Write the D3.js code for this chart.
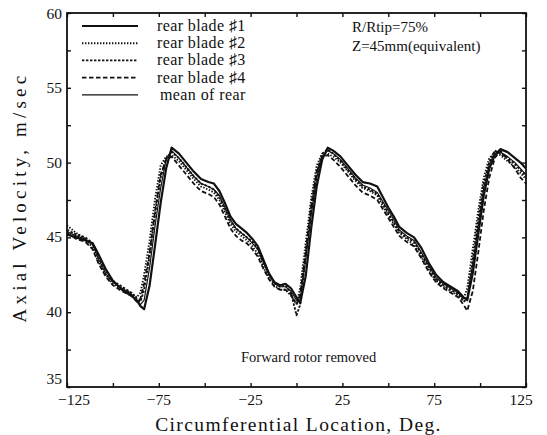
<!DOCTYPE html>
<html lang="en">
<head>
<meta charset="UTF-8">
<title>Axial Velocity - Forward rotor removed</title>
<script src="https://d3js.org/d3.v7.min.js"></script>
<style>
    body { margin: 0; padding: 0; background: #fff; }
    svg { display: block; }
    text { font-family: "Liberation Serif", "DejaVu Serif", serif; fill: #111; }
</style>
</head>
<body>
<div id="chart"></div>
<script>
// circumferential location, deg
const angles = [-125,-120,-115,-111,-108,-104,-100,-95,-90,-87,-85,-83,-80,-77,-74,-71,-68,-64,-60,-56,-52,-48,-45,-42,-39,-36,-33,-30,-27,-24,-21,-18,-15,-12,-9,-6,-3,0,2,5,8,11,14,17,20,24,28,32,36,40,44,47,50,53,56,60,64,68,72,76,80,84,88,91,93,96,99,102,105,108,111,115,119,122,125];

// axial velocity, m/sec
const blade1 = [45.2,45.0,44.8,44.6,43.9,42.9,42.1,41.5,41.1,40.8,40.4,40.2,41.8,44.5,47.3,49.6,51.0,50.6,50.0,49.4,48.9,48.7,48.6,48.1,47.3,46.4,45.9,45.6,45.3,44.9,44.4,43.5,42.6,42.0,41.8,41.9,41.6,41.0,40.6,42.4,45.6,48.4,50.2,51.0,50.8,50.4,49.8,49.2,48.7,48.6,48.4,47.7,47.0,46.4,45.7,45.3,45.0,44.3,43.3,42.5,42.0,41.7,41.4,41.0,40.8,42.6,45.2,47.8,49.6,50.5,50.9,50.7,50.3,50.0,49.6];
const blade2 = [45.8,45.3,44.9,44.3,43.4,42.5,41.9,41.5,41.3,41.0,41.3,42.5,44.8,47.6,49.8,50.4,50.5,50.1,49.5,48.9,48.4,48.2,48.0,47.5,46.7,45.9,45.4,45.1,44.8,44.4,43.9,43.0,42.3,41.8,41.5,41.5,41.1,40.6,41.6,44.6,47.6,49.8,50.6,50.6,50.4,50.0,49.4,48.8,48.3,48.1,47.8,47.1,46.5,45.9,45.3,44.9,44.5,43.7,42.8,42.1,41.7,41.4,41.1,40.9,41.6,44.2,46.8,49.0,50.3,50.7,50.5,50.1,49.7,49.3,48.9];
const blade3 = [45.5,45.2,45.0,44.6,43.8,42.8,42.1,41.7,41.3,40.9,40.7,41.5,43.8,46.6,49.0,50.3,50.7,50.3,49.7,49.1,48.6,48.4,48.2,47.7,46.9,46.1,45.6,45.3,45.0,44.7,44.2,43.3,42.5,42.0,41.7,41.8,41.3,39.8,40.5,43.8,46.9,49.3,50.6,50.9,50.6,50.1,49.5,48.9,48.4,48.2,47.9,47.3,46.6,46.0,45.4,45.0,44.7,43.9,43.0,42.2,41.8,41.5,41.2,40.7,40.9,43.5,46.2,48.6,50.0,50.8,50.6,50.3,49.9,49.5,49.1];
const blade4 = [45.3,44.9,44.7,44.2,43.3,42.4,41.8,41.4,41.1,40.7,40.9,41.9,44.0,46.8,49.2,50.2,50.4,49.8,49.2,48.6,48.1,47.9,47.7,47.2,46.4,45.6,45.1,44.8,44.6,44.2,43.7,42.9,42.2,41.7,41.5,41.5,41.2,40.5,41.2,44.0,47.1,49.4,50.4,50.5,50.2,49.7,49.1,48.5,48.0,47.8,47.5,46.9,46.3,45.7,45.1,44.7,44.4,43.6,42.7,42.0,41.6,41.3,41.0,40.5,40.1,41.4,44.0,46.8,49.0,50.3,50.8,50.2,49.6,49.0,48.6];
const meanRear = [45.4,45.1,44.9,44.5,43.6,42.6,42.0,41.6,41.2,40.8,40.5,40.8,43.0,45.8,48.3,50.2,50.8,50.3,49.7,49.1,48.6,48.4,48.2,47.8,47.0,46.2,45.6,45.3,45.0,44.6,44.2,43.3,42.5,41.9,41.7,41.7,41.4,40.8,40.9,43.5,46.5,49.0,50.4,50.8,50.6,50.2,49.6,49.0,48.5,48.3,48.0,47.4,46.8,46.2,45.5,45.1,44.8,44.0,43.1,42.3,41.9,41.6,41.3,40.9,41.0,43.2,45.8,48.3,49.9,50.6,50.7,50.4,50.0,49.6,49.2];

const seriesNames = ["rear blade \u266F1", "rear blade \u266F2", "rear blade \u266F3", "rear blade \u266F4", "mean of rear"];
const seriesValues = [blade1, blade2, blade3, blade4, meanRear];
const xTicks = [-125, -75, -25, 25, 75, 125];
const yTicks = [35, 40, 45, 50, 55, 60];

const dashes = [null, "1.4,1.6", "2.4,1.6", "4.5,2.5", null];
const widths = [2.2, 1.9, 1.9, 1.8, 1.2];

const W = 547, H = 435;
const margin = { top: 13, right: 21, bottom: 48, left: 67 };
const width = W - margin.left - margin.right;
const height = H - margin.top - margin.bottom;

const svgRoot = d3.select("#chart").append("svg")
    .attr("width", W)
    .attr("height", H);
const svg = svgRoot.append("g")
    .attr("transform", `translate(${margin.left},${margin.top})`);

const x = d3.scaleLinear().domain([-125, 125]).range([0, width]);
const y = d3.scaleLinear().domain([35, 60]).range([height, 0]);

// minor ticks inside the frame
const xMinor = d3.range(-125, 126, 25);
const yMinor = d3.range(35, 60.1, 2.5);

svg.append("g")
    .attr("transform", `translate(0,${height})`)
    .call(d3.axisBottom(x).tickValues(xMinor).tickSize(-4).tickFormat(""))
    .call(g => g.select(".domain").remove());
svg.append("g")
    .call(d3.axisTop(x).tickValues(xMinor).tickSize(-4).tickFormat(""))
    .call(g => g.select(".domain").remove());
svg.append("g")
    .call(d3.axisLeft(y).tickValues(yMinor).tickSize(-4).tickFormat(""))
    .call(g => g.select(".domain").remove());
svg.append("g")
    .attr("transform", `translate(${width},0)`)
    .call(d3.axisRight(y).tickValues(yMinor).tickSize(-4).tickFormat(""))
    .call(g => g.select(".domain").remove());

svg.selectAll(".tick line").attr("stroke", "#111").attr("stroke-width", 1.4);

// frame
svg.append("rect")
    .attr("x", 0).attr("y", 0)
    .attr("width", width).attr("height", height)
    .attr("fill", "none")
    .attr("stroke", "#111")
    .attr("stroke-width", 1.8);

// tick labels
svg.selectAll(".xlab")
    .data(xTicks)
    .enter()
    .append("text")
    .attr("class", "xlab")
    .attr("x", d => x(d) + (d === -125 ? 7 : d === 125 ? -5 : 0))
    .attr("y", height + 18)
    .attr("text-anchor", "middle")
    .style("font-size", "15.5px")
    .text(d => d < 0 ? "\u2212" + Math.abs(d) : d);

svg.selectAll(".ylab")
    .data(yTicks)
    .enter()
    .append("text")
    .attr("class", "ylab")
    .attr("x", -5)
    .attr("y", d => y(d) + (d === 35 ? -3 : d === 60 ? 6 : 5))
    .attr("text-anchor", "end")
    .style("font-size", "15.5px")
    .text(d => d);

// axis titles
svg.append("text")
    .attr("x", width / 2 + 2)
    .attr("y", height + 44)
    .attr("text-anchor", "middle")
    .style("font-size", "19.5px")
    .style("letter-spacing", "1.4px")
    .text("Circumferential Location,  Deg.");

svg.append("text")
    .attr("transform", "rotate(-90)")
    .attr("x", -(y(47.7)))
    .attr("y", -41)
    .attr("text-anchor", "middle")
    .style("font-size", "19px")
    .style("letter-spacing", "4.2px")
    .text("Axial Velocity,  m/sec");

// curves
const line = d3.line()
    .x((d, i) => x(angles[i]))
    .y(d => y(d));

svg.selectAll(".curve")
    .data(seriesValues)
    .enter()
    .append("path")
    .attr("class", "curve")
    .attr("d", d => line(d))
    .attr("fill", "none")
    .attr("stroke", "#111")
    .attr("stroke-width", (d, i) => widths[i])
    .attr("stroke-dasharray", (d, i) => dashes[i])
    .attr("stroke-linejoin", "round");

// legend
const legend = svg.selectAll(".legend")
    .data(seriesNames)
    .enter()
    .append("g")
    .attr("class", "legend")
    .attr("transform", (d, i) => `translate(15,${13 + i * 17.2})`);

legend.append("line")
    .attr("x1", 0).attr("x2", 56)
    .attr("y1", 0).attr("y2", 0)
    .attr("stroke", "#111")
    .attr("stroke-width", (d, i) => widths[i])
    .attr("stroke-dasharray", (d, i) => dashes[i]);

legend.append("text")
    .attr("x", (d, i) => i === 4 ? 78 : 75)
    .attr("y", 5)
    .style("font-size", "16px")
    .style("letter-spacing", "0.4px")
    .text(d => d);

// annotations
svg.append("text")
    .attr("x", 285).attr("y", 19)
    .style("font-size", "15px")
    .text("R/Rtip=75%");
svg.append("text")
    .attr("x", 285).attr("y", 38)
    .style("font-size", "15px")
    .text("Z=45mm(equivalent)");
svg.append("text")
    .attr("x", 174).attr("y", 349)
    .style("font-size", "14.5px")
    .text("Forward rotor removed");
</script>
</body>
</html>
